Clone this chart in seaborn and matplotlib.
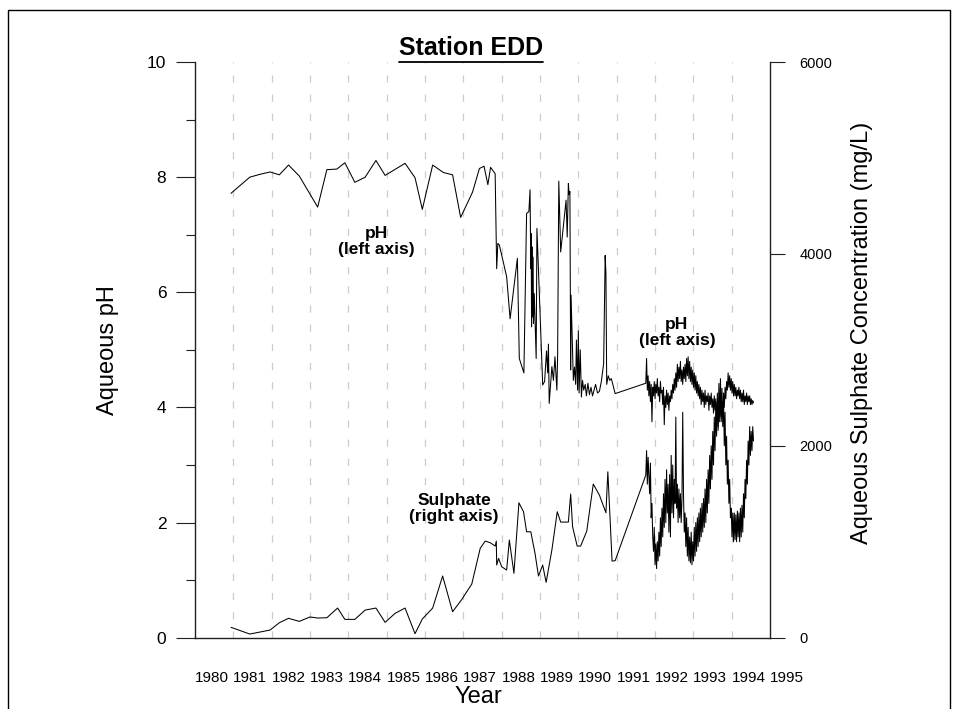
import numpy as np
import pandas as pd
import matplotlib
matplotlib.use("Agg")
import matplotlib.pyplot as plt
import seaborn as sns
from matplotlib.lines import Line2D
from matplotlib.patches import Rectangle

# ---- data ----
# pH, left axis (sparse sampling up to the end of 1990)
ph_years = [1980.94, 1981.43, 1981.70, 1981.96, 1982.20, 1982.44, 1982.72, 1983.20, 1983.44, 1983.70,
            1983.91, 1984.17, 1984.44, 1984.72, 1984.96, 1985.48, 1985.74, 1985.93, 1986.20, 1986.48,
            1986.72, 1986.93, 1987.24, 1987.42, 1987.54, 1987.64, 1987.71, 1987.83, 1987.87, 1987.90,
            1987.94, 1988.13, 1988.22, 1988.41, 1988.46, 1988.58, 1988.65, 1988.71, 1988.74, 1988.76,
            1988.77, 1988.78, 1988.79, 1988.80, 1988.82, 1988.83, 1988.85, 1988.87, 1988.90, 1988.92,
            1989.07, 1989.12, 1989.17, 1989.20, 1989.22, 1989.24, 1989.31, 1989.35, 1989.39, 1989.44,
            1989.46, 1989.49, 1989.54, 1989.68, 1989.71, 1989.74, 1989.76, 1989.78, 1989.80, 1989.81,
            1989.84, 1989.87, 1989.90, 1989.93, 1989.95, 1989.98, 1990.00, 1990.02, 1990.05, 1990.08,
            1990.11, 1990.14, 1990.18, 1990.21, 1990.25, 1990.29, 1990.33, 1990.37, 1990.41, 1990.45,
            1990.50, 1990.55, 1990.60, 1990.66, 1990.70, 1990.72, 1990.74, 1990.78, 1990.82, 1990.86,
            1990.90, 1990.96]
ph_values = [7.72, 8.00, 8.05, 8.09, 8.04, 8.21, 8.02, 7.48, 8.13, 8.14,
             8.25, 7.91, 8.00, 8.29, 8.03, 8.24, 7.99, 7.44, 8.21, 8.08,
             8.04, 7.30, 7.74, 8.15, 8.19, 7.87, 8.17, 8.06, 6.41, 6.85,
             6.82, 6.27, 5.54, 6.59, 4.85, 4.60, 7.37, 7.40, 7.78, 6.41,
             7.02, 5.40, 6.79, 5.57, 6.61, 5.46, 5.98, 5.52, 4.85, 7.11,
             4.39, 4.45, 4.98, 4.60, 5.10, 4.07, 4.71, 4.47, 4.88, 4.30,
             4.91, 7.93, 6.70, 7.60, 6.96, 7.89, 7.70, 7.75, 4.65, 5.95,
             5.23, 4.47, 4.70, 4.40, 5.17, 4.30, 5.33, 4.25, 5.00, 4.18,
             4.47, 4.30, 4.40, 4.20, 4.42, 4.22, 4.35, 4.20, 4.30, 4.40,
             4.25, 4.28, 4.45, 4.76, 6.64, 6.33, 4.40, 4.55, 4.47, 4.50,
             4.40, 4.24]

# sulphate (mg/L), right axis (sparse sampling up to the end of 1990)
so4_years = [1980.94, 1981.43, 1981.70, 1981.96, 1982.20, 1982.44, 1982.72, 1983.00, 1983.20, 1983.44,
             1983.72, 1983.91, 1984.17, 1984.44, 1984.72, 1984.96, 1985.22, 1985.48, 1985.74, 1985.93,
             1986.20, 1986.46, 1986.72, 1986.95, 1987.22, 1987.44, 1987.57, 1987.70, 1987.83, 1987.86,
             1987.87, 1987.92, 1988.00, 1988.13, 1988.20, 1988.32, 1988.45, 1988.57, 1988.65, 1988.76,
             1988.87, 1988.96, 1989.07, 1989.16, 1989.31, 1989.45, 1989.54, 1989.74, 1989.80, 1989.85,
             1989.97, 1990.06, 1990.22, 1990.39, 1990.55, 1990.72, 1990.77, 1990.88, 1990.96]
so4_values = [108, 38, 59, 80, 156, 202, 170, 216, 205, 208,
              309, 191, 191, 288, 309, 160, 254, 309, 42, 195,
              309, 643, 271, 393, 559, 931, 1007, 990, 955, 1007,
              757, 827, 740, 705, 1018, 671, 1406, 1313, 1104, 1104,
              879, 643, 757, 577, 914, 1313, 1205, 1205, 1497, 1156,
              955, 955, 1111, 1601, 1486, 1302, 1729, 799, 802]

# frequent sampling period, late 1991 to mid 1994
dense_start, dense_end = 1991.76, 1994.57
ph_dense = [4.42, 4.85, 4.30, 4.55, 4.20, 4.45, 4.10, 4.40, 3.75, 4.35,
            4.20, 4.45, 4.15, 4.40, 4.25, 4.50, 4.20, 4.35, 4.10, 4.45,
            4.25, 4.30, 4.05, 4.35, 3.70, 4.20, 4.00, 4.30, 4.05, 4.25,
            3.95, 4.20, 4.10, 4.30, 4.15, 4.40, 4.25, 4.50, 4.30, 4.60,
            4.35, 4.75, 4.45, 4.70, 4.50, 4.80, 4.45, 4.65, 4.40, 4.70,
            4.50, 4.75, 4.45, 4.85, 4.55, 4.88, 4.50, 4.80, 4.45, 4.70,
            4.40, 4.65, 4.35, 4.60, 4.30, 4.55, 4.25, 4.45, 4.20, 4.40,
            4.15, 4.35, 4.05, 4.30, 4.10, 4.25, 4.00, 4.30, 4.05, 4.20,
            4.10, 4.25, 3.95, 4.20, 4.05, 4.25, 4.00, 4.15, 3.90, 4.20,
            3.95, 4.15, 3.80, 4.10, 3.60, 4.05, 3.85, 4.20, 3.75, 4.10,
            3.90, 4.25, 4.00, 4.35, 4.15, 4.45, 4.30, 4.60, 4.35, 4.55,
            4.30, 4.50, 4.25, 4.45, 4.20, 4.40, 4.20, 4.35, 4.15, 4.30,
            4.20, 4.35, 4.15, 4.30, 4.10, 4.25, 4.10, 4.30, 4.05, 4.20,
            4.10, 4.25, 4.05, 4.20, 4.10, 4.20, 4.05, 4.15, 4.05, 4.12,
            4.08]
so4_dense = [1695, 1950, 1600, 1880, 1700, 1500, 1820, 1250, 1400, 1050,
             900, 1150, 760, 980, 720, 1000, 800, 1100, 850, 1250,
             950, 1350, 1050, 1500, 1150, 1650, 1200, 1750, 1300, 1600,
             1100, 1700, 1050, 1900, 1300, 1800, 1250, 1650, 1400, 2300,
             1350, 1600, 1200, 1550, 1250, 1500, 1200, 1450, 2350, 1500,
             1100, 1300, 950, 1250, 850, 1150, 800, 1050, 780, 1100,
             760, 1000, 800, 1150, 850, 1200, 900, 1250, 950, 1300,
             1000, 1350, 1050, 1400, 1100, 1450, 1150, 1550, 1200, 1650,
             1300, 1750, 1400, 1900, 1550, 2000, 1650, 2150, 1800, 2300,
             1950, 2450, 2100, 2550, 2200, 2650, 2250, 2700, 2300, 2600,
             2200, 2500, 2000, 2350, 1800, 2100, 1600, 1850, 1400, 1650,
             1250, 1350, 1050, 1300, 1000, 1300, 1020, 1280, 1000, 1320,
             1050, 1300, 1000, 1350, 1050, 1380, 1100, 1500, 1250, 1650,
             1450, 1850, 1600, 2050, 1800, 2200, 1900, 2150, 1950, 2200,
             2050]

year_ticks = list(range(1980, 1996))
ph_ticks = [0, 2, 4, 6, 8, 10]
so4_ticks = [0, 2000, 4000, 6000]

dense_years = np.linspace(dense_start, dense_end, len(ph_dense))
ph_df = pd.DataFrame({"Year": ph_years + list(dense_years), "pH": ph_values + ph_dense})
so4_df = pd.DataFrame({"Year": so4_years + list(dense_years), "SO4": so4_values + so4_dense})

# ---- style ----
sns.set_style("white")
plt.rcParams["font.family"] = ["Liberation Sans", "DejaVu Sans"]
plt.rcParams["lines.scale_dashes"] = False
plt.rcParams["text.color"] = "black"
plt.rcParams["xtick.color"] = "black"
plt.rcParams["ytick.color"] = "black"
plt.rcParams["xtick.labelcolor"] = "black"
plt.rcParams["ytick.labelcolor"] = "black"

W, H = 956, 709
fig = plt.figure(figsize=(W / 100, H / 100), dpi=100)
ax = fig.add_axes([195 / W, 1 - 637.7 / H, 575 / W, 575.7 / H])
ax2 = ax.twinx()

spine_col = "#202020"

# year gridlines
for yr in year_ticks[1:-1]:
    ax.axvline(yr, color="#cccccc", lw=0.9, dashes=(5.2, 8.6), zorder=0)

sns.lineplot(data=ph_df, x="Year", y="pH", ax=ax, color="black", lw=0.75,
             estimator=None, sort=False)
sns.lineplot(data=so4_df, x="Year", y="SO4", ax=ax2, color="black", lw=0.75,
             estimator=None, sort=False)

ax.set_xlim(1980, 1995)
ax.set_ylim(0, 10)
ax2.set_ylim(0, 6000)

for a in (ax, ax2):
    a.set_xlabel("")
    a.set_ylabel("")
    a.spines["top"].set_visible(False)
ax.spines["right"].set_visible(False)
ax2.spines["left"].set_visible(False)
ax2.spines["bottom"].set_visible(False)
for s in ("left", "bottom"):
    ax.spines[s].set_color(spine_col)
    ax.spines[s].set_linewidth(1.0)
ax2.spines["right"].set_color(spine_col)
ax2.spines["right"].set_linewidth(1.0)

ax.set_xticks(year_ticks)
ax.set_xticklabels([str(y) for y in year_ticks], ha="left")
ax.tick_params(axis="x", direction="out", length=13.7, width=0.8, color=spine_col,
               labelsize=11, pad=10)

ax.set_yticks(ph_ticks)
ax.set_yticks([1, 3, 5, 7, 9], minor=True)
ax.tick_params(axis="y", which="major", direction="out", length=13.7, width=0.8,
               color=spine_col, labelsize=12.5, pad=7)
ax.tick_params(axis="y", which="minor", direction="out", length=6.8, width=0.8,
               color=spine_col, left=True)

ax2.set_yticks(so4_ticks)
ax2.tick_params(axis="y", which="major", direction="out", length=11, width=0.8,
                color=spine_col, labelsize=10.5, pad=10)

# annotations
ax.text(1984.74, 6.88, "pH\n(left axis)", ha="center", va="center",
        fontsize=12.5, fontweight="bold", linespacing=1.1)
ax.text(1992.57, 5.30, "pH\n(left axis)", ha="center", va="center",
        fontsize=12.5, fontweight="bold", linespacing=1.1)
ax.text(1986.76, 2.25, "Sulphate\n(right axis)", ha="center", va="center",
        fontsize=12.5, fontweight="bold", linespacing=1.1)

# axis titles and chart title
fig.text(108 / W, 1 - 350 / H, "Aqueous pH", rotation=90, ha="center", va="center",
         fontsize=17)
fig.text(478 / W, 1 - 697 / H, "Year", ha="center", va="center", fontsize=17)
fig.text(862 / W, 1 - 333 / H, "Aqueous Sulphate Concentration (mg/L)", rotation=90,
         ha="center", va="center", fontsize=17)
title = fig.text(471 / W, 1 - 48 / H, "Station EDD", ha="center", va="center",
                 fontsize=18, fontweight="bold")

# frame round the figure
fig.patches.append(Rectangle((8 / W, -0.02), 942 / W, 1.02 - 10 / H, transform=fig.transFigure,
                             fill=False, edgecolor="black", lw=1.0))

# underline the title
fig.canvas.draw()
bb = title.get_window_extent()
fig.add_artist(Line2D([bb.x0, bb.x1], [bb.y0 - 1.5, bb.y0 - 1.5], transform=None,
                      color="black", lw=1.3))

fig.savefig("out.png", dpi=100)
